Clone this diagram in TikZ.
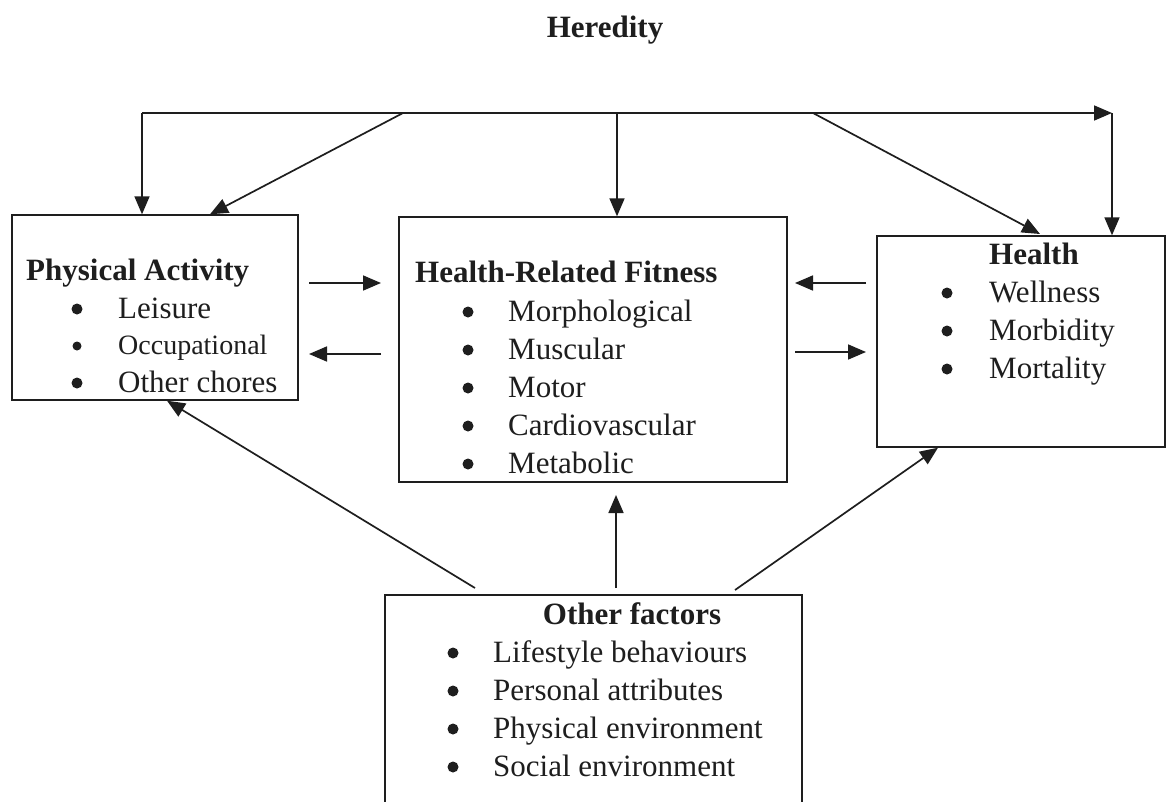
\documentclass[tikz,border=0pt]{standalone}
\usepackage{fontspec}
\setmainfont{Liberation Serif}
\usetikzlibrary{arrows.meta}
\definecolor{ink}{HTML}{1E1E1E}
\begin{document}
\begin{tikzpicture}[x=1pt,y=-1pt,
  box/.style={draw=ink, line width=1.4pt, inner sep=0pt, rectangle},
  arr/.style={draw=ink, line width=1.7pt, -{Triangle[length=18pt,width=15pt]}},
  ln/.style={draw=ink, line width=1.7pt},
  txt/.style={anchor=base west, inner sep=0pt, text=ink, font=\fontsize{31}{38}\selectfont},
  smalltxt/.style={txt, font=\fontsize{28}{34}\selectfont},
  ttl/.style={txt, font=\fontsize{31}{38}\selectfont\bfseries},
  bul/.style={circle, fill=ink, inner sep=0pt, minimum size=11pt, yshift=9pt},
  smallbul/.style={bul, minimum size=9pt, yshift=-1pt}]
\clip (0,0) rectangle (1167,801);
\fill[white] (0,0) rectangle (1167,801);

% boxes
\node[box, minimum width=286pt, minimum height=185pt] (pa) at (155,307.5) {};
\node[box, minimum width=388pt, minimum height=265pt] (hrf) at (593,349.5) {};
\node[box, minimum width=288pt, minimum height=211pt] (hl) at (1021,341.5) {};
\node[box, minimum width=417pt, minimum height=240pt] (of) at (593.5,715) {};

% Heredity
\node[anchor=base, inner sep=0pt, text=ink, font=\fontsize{31}{38}\selectfont\bfseries] (her) at (605,37) {Heredity};

% Physical activity text
\node[ttl] (pat) at (26,280) {Physical Activity};
\node[bul] (pb1) at (77,318) {};
\node[txt] (pi1) at (118,318) {Leisure};
\node[smallbul] (pb2) at (77,354) {};
\node[smalltxt] (pi2) at (118,354) {Occupational};
\node[bul] (pb3) at (77,392) {};
\node[txt] (pi3) at (118,392) {Other chores};

% HRF text
\node[ttl] (hrft) at (415,282) {Health-Related Fitness};
\node[bul] (hb1) at (468,321) {};
\node[txt] (hi1) at (508,321) {Morphological};
\node[bul] (hb2) at (468,359) {};
\node[txt] (hi2) at (508,359) {Muscular};
\node[bul] (hb3) at (468,397) {};
\node[txt] (hi3) at (508,397) {Motor};
\node[bul] (hb4) at (468,435) {};
\node[txt] (hi4) at (508,435) {Cardiovascular};
\node[bul] (hb5) at (468,473) {};
\node[txt] (hi5) at (508,473) {Metabolic};

% Health text
\node[ttl] (hlt) at (989,264) {Health};
\node[bul] (lb1) at (947,302) {};
\node[txt] (li1) at (989,302) {Wellness};
\node[bul] (lb2) at (947,340) {};
\node[txt] (li2) at (989,340) {Morbidity};
\node[bul] (lb3) at (947,378) {};
\node[txt] (li3) at (989,378) {Mortality};

% Other factors text
\node[anchor=base, inner sep=0pt, text=ink, font=\fontsize{31}{38}\selectfont\bfseries] (oft) at (632,624) {Other factors};
\node[bul] (ob1) at (453,662) {};
\node[txt] (oi1) at (493,662) {Lifestyle behaviours};
\node[bul] (ob2) at (453,700) {};
\node[txt] (oi2) at (493,700) {Personal attributes};
\node[bul] (ob3) at (453,738) {};
\node[txt] (oi3) at (493,738) {Physical environment};
\node[bul] (ob4) at (453,776) {};
\node[txt] (oi4) at (493,776) {Social environment};

% heredity line and arrows
\coordinate (tl) at (142,113);
\coordinate (tr) at (1112,113);
\coordinate (d1) at (403,113);
\coordinate (d2) at (617,113);
\coordinate (d3) at (813,113);
\draw[ln] (tl) -- (d1);
\draw[arr] (tl) -- (tl |- pa.north);
\draw[arr] (d1) -- (pa.north -| 210,0);
\draw[arr] (d2) -- (d2 |- hrf.north);
\draw[arr] (d3) -- (1040,234);
\draw[arr] (d1) -- (tr);
\draw[arr] (tr) -- (tr |- hl.north);

% horizontal arrows
\coordinate (a1s) at (309,283); \coordinate (a1e) at (381,283);
\coordinate (a2s) at (381,354); \coordinate (a2e) at (309,354);
\coordinate (a3s) at (866,283); \coordinate (a3e) at (795,283);
\coordinate (a4s) at (795,352); \coordinate (a4e) at (866,352);
\draw[arr] (a1s) -- (a1e);
\draw[arr] (a2s) -- (a2e);
\draw[arr] (a3s) -- (a3e);
\draw[arr] (a4s) -- (a4e);

% bottom arrows
\coordinate (b1) at (475,588);
\coordinate (b2) at (616,588);
\coordinate (b3) at (735,590);
\draw[arr] (b1) -- (pa.south -| 167,0);
\draw[arr] (b2) -- (616,495);
\draw[arr] (b3) -- (hl.south -| 938,0);
\end{tikzpicture}
\end{document}
